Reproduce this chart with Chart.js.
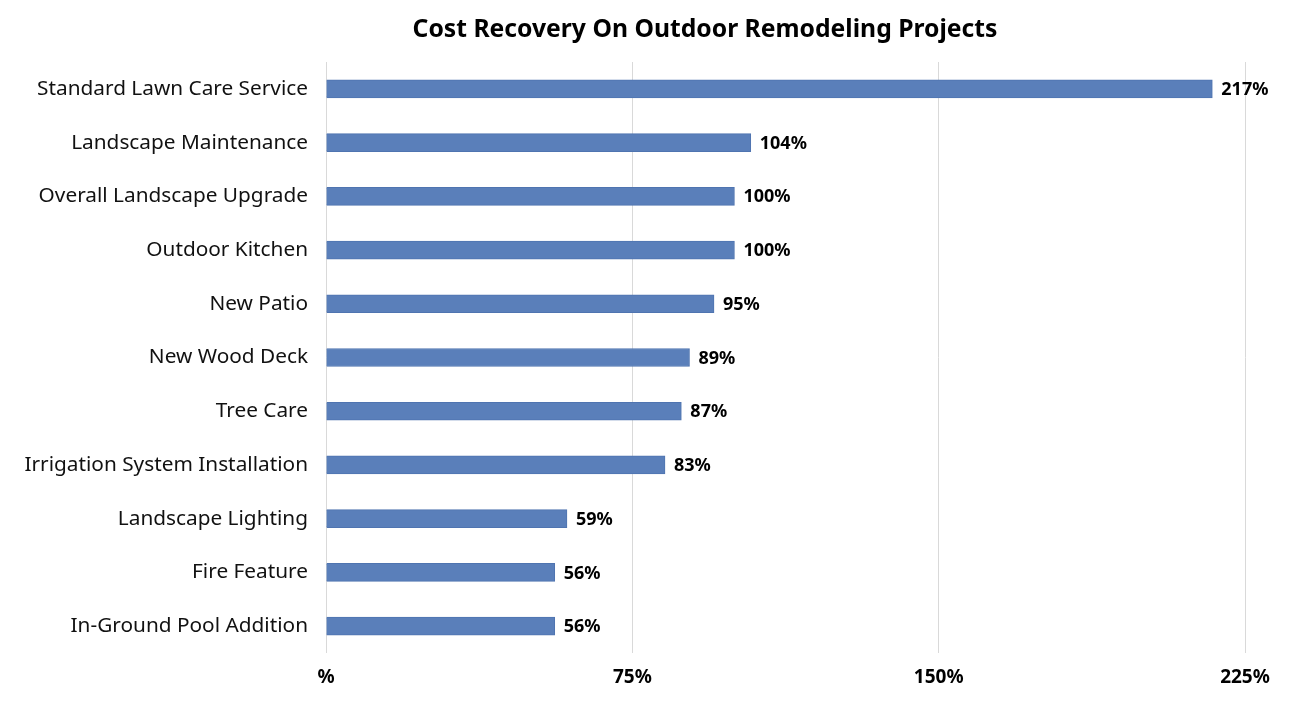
<!DOCTYPE html>
<html><head><meta charset="utf-8">
<script src="https://cdn.jsdelivr.net/npm/chart.js@4.4.1/dist/chart.umd.min.js"></script>
<style>html,body{margin:0;padding:0;background:#fff}#wrap{width:1300px;height:719px}</style>
</head><body><div id="wrap"><canvas id="c" width="1300" height="719"></canvas></div>
<script>
const categories = ["Standard Lawn Care Service","Landscape Maintenance","Overall Landscape Upgrade","Outdoor Kitchen","New Patio","New Wood Deck","Tree Care","Irrigation System Installation","Landscape Lighting","Fire Feature","In-Ground Pool Addition"];
const values = [217,104,100,100,95,89,87,83,59,56,56];
const tickValues = [0,75,150,225];
const titleText = 'Cost Recovery On Outdoor Remodeling Projects';
const FONT = "'Noto Sans', sans-serif";

const labelPlugin = {
  id:'valueLabels',
  afterDatasetsDraw(chart){
    const ctx = chart.ctx;
    const meta = chart.getDatasetMeta(0);
    ctx.save();
    ctx.font = "bold 18px " + FONT;
    ctx.fillStyle = "#000";
    ctx.textAlign = "left";
    ctx.textBaseline = "middle";
    meta.data.forEach((bar,i)=>{
      ctx.fillText(values[i] + "%", bar.x + 9, bar.y + 1);
    });
    ctx.restore();
  },
  afterDraw(chart){
    const ctx = chart.ctx;
    ctx.save();
    ctx.font = "bold 24.7px " + FONT;
    ctx.fillStyle = "#000";
    ctx.textAlign = "center";
    ctx.textBaseline = "middle";
    ctx.fillText(titleText, 705, 30);
    ctx.restore();
  }
};

new Chart(document.getElementById('c'), {
  type:'bar',
  data:{labels:categories, datasets:[{data:values, backgroundColor:'#5a7fba', borderColor:'#4f74b0', borderWidth:1, barThickness:18}]},
  options:{
    indexAxis:'y', responsive:false, animation:false,
    layout:{padding:{left:0,right:55,top:62,bottom:0}},
    plugins:{
      legend:{display:false}, tooltip:{enabled:false}, title:{display:false}
    },
    scales:{
      x:{min:0,max:225,
        afterBuildTicks(s){ s.ticks = tickValues.map(v=>({value:v})); },
        afterFit(s){ s.height = 66; },
        grid:{color:'#d9d9d9', drawTicks:false},
        border:{display:false},
        ticks:{padding:13, color:'#000', font:{family:FONT, size:19, weight:'bold'}, callback:(v)=> v===0 ? '%' : v + '%'}
      },
      y:{
        afterFit(s){ s.width = 326; },
        grid:{display:false}, border:{display:false},
        ticks:{padding:10, color:'#111', font:{family:FONT, size:20.8}}
      }
    }
  },
  plugins:[labelPlugin]
});
</script></body></html>
